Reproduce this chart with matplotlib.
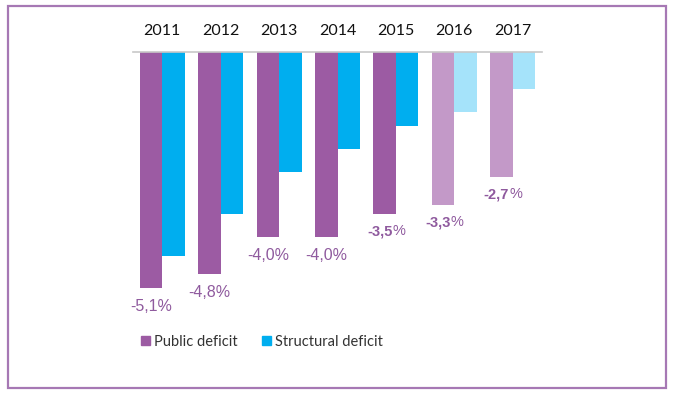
import matplotlib.pyplot as plt
import numpy as np
from matplotlib.patches import Rectangle, Patch

years = ["2011", "2012", "2013", "2014", "2015", "2016", "2017"]
public = [-5.1, -4.8, -4.0, -4.0, -3.5, -3.3, -2.7]
structural = [-4.4, -3.5, -2.6, -2.1, -1.6, -1.3, -0.8]
labels = ["-5,1%", "-4,8%", "-4,0%", "-4,0%", "-3,5%", "-3,3%", "-2,7%"]
projected = [False, False, False, False, True, True, True]  # bold labels
forecast = [False, False, False, False, False, True, True]  # lighter bars

purple = "#9C5BA3"
purple_lt = "#C399C8"
cyan = "#00AEEF"
cyan_lt = "#A5E3FA"
lbl_col = "#8F5A9E"

W, H = 674, 395
fig = plt.figure(figsize=(W / 100, H / 100), dpi=100)

# axes placed in pixel terms: baseline at y=52, 46.3 px per unit
top_px, bot_px = 52, 52 + 6 * 46.3
left_px, right_px = 133, 542
ax = fig.add_axes([left_px / W, 1 - bot_px / H,
                   (right_px - left_px) / W, (bot_px - top_px) / H])

x = np.arange(len(years))
bw = 0.385
pc = [purple_lt if f else purple for f in forecast]
sc = [cyan_lt if f else cyan for f in forecast]
ax.bar(x - bw / 2, public, bw, color=pc, zorder=2)
ax.bar(x + bw / 2, structural, bw, color=sc, zorder=2)

ax.set_xlim(-0.5, 6.5)
ax.set_ylim(-6, 0)
for s in ["left", "right", "bottom"]:
    ax.spines[s].set_visible(False)
ax.spines["top"].set_color("#C8C8C8")
ax.spines["top"].set_linewidth(1.2)
ax.set_yticks([])
ax.xaxis.tick_top()
ax.set_xticks(x)
ax.set_xticklabels(years, fontfamily="Lato", fontsize=11.5, color="#111111")
ax.tick_params(axis="x", length=0, pad=10)

for i, (v, t) in enumerate(zip(public, labels)):
    if projected[i]:
        num, pct = t[:-1], "%"
        ax.annotate(num, (x[i] - bw / 2, v), xytext=(5.5, -12.5),
                    textcoords="offset points", ha="right", va="center",
                    fontfamily="Liberation Sans", fontsize=10.5,
                    fontweight="bold", color=lbl_col)
        ax.annotate(pct, (x[i] - bw / 2, v), xytext=(5.5, -12.5),
                    textcoords="offset points", ha="left", va="center",
                    fontfamily="Liberation Sans", fontsize=10.5,
                    color=lbl_col)
    else:
        ax.annotate(t, (x[i] - bw / 2, v), xytext=(0, -13),
                    textcoords="offset points", ha="center", va="center",
                    fontfamily="Liberation Sans", fontsize=11.5,
                    color=lbl_col)

handles = [Patch(color=purple, label="Public deficit"),
           Patch(color=cyan, label="Structural deficit")]
fig.legend(handles=handles, loc="center left",
           bbox_to_anchor=(141 / W, 1 - 342 / H), ncol=2, frameon=False,
           handlelength=0.6, handleheight=0.6, handletextpad=0.3,
           columnspacing=1.65, borderpad=0, borderaxespad=0,
           prop={"family": "Lato", "size": 10.5}, labelcolor="#333333")

# purple frame round the whole picture
fig.patches.append(Rectangle((7.5 / W, 1 - 388 / H), (666 - 7.5) / W,
                             (388 - 6) / H, transform=fig.transFigure,
                             fill=False, edgecolor="#A678B4", linewidth=1.6))

fig.savefig("out.png", dpi=100)
